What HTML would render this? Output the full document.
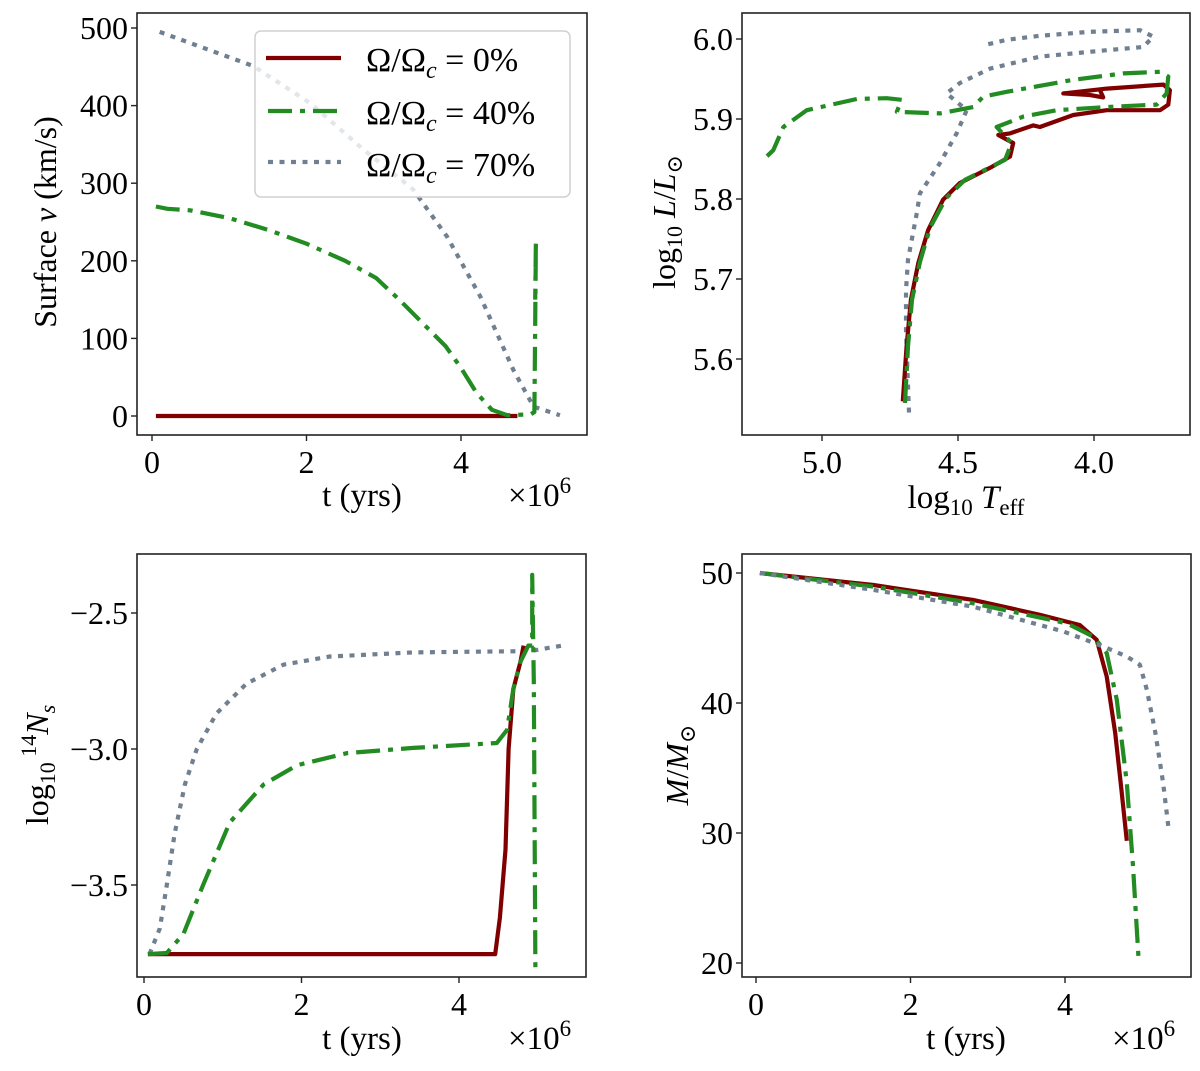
<!DOCTYPE html>
<html><head><meta charset="utf-8"><style>
html,body{margin:0;padding:0;background:#fff;}
svg{display:block;}
text{font-family:"Liberation Serif","DejaVu Serif",serif;fill:#000;}
</style></head><body>
<svg id="fig" width="1200" height="1071" viewBox="0 0 1200 1071" xmlns="http://www.w3.org/2000/svg">
<g id="p1"></g>
<g id="p2"></g>
<g id="p3"></g>
<g id="p4"></g>
</svg>
<script>
// ---- Panel 1: surface velocity (t in 1e6 yrs, v km/s)
const p1RedT = [0.05, 4.73];
const p1RedV = [0, 0];
const p1GreenT = [0.05,0.2,0.5,1.0,1.5,2.0,2.5,2.9,3.2,3.5,3.8,4.0,4.2,4.4,4.6,4.9,4.95,4.96,4.97,4.96];
const p1GreenV = [270,267,265,255,240,222,200,178,150,120,90,62,30,8,1,2,5,120,227,150];
const p1GrayT = [0.1,1.31,2.05,2.74,3.38,3.82,4.25,4.68,4.94,5.28];
const p1GrayV = [495,451,403,343,292,231,154,59,12,1];
const p1XTicks = [0,2,4];
const p1YTicks = [0,100,200,300,400,500];

// ---- Panel 2: HR diagram
const p2RedT = [4.703,4.689,4.673,4.646,4.610,4.555,4.493,4.382,4.309,4.297,4.352,4.309,4.223,4.199,4.076,3.953,3.757,3.727,3.721,3.745,3.953,4.113,4.015,3.966,3.978];
const p2RedL = [5.547,5.616,5.674,5.720,5.761,5.799,5.820,5.839,5.853,5.870,5.880,5.882,5.892,5.890,5.905,5.911,5.911,5.918,5.936,5.943,5.938,5.932,5.930,5.927,5.936];
const p2GreenT = [4.695,4.684,4.669,4.640,4.603,4.544,4.474,4.327,4.303,4.358,4.260,4.137,3.953,3.770,3.733,3.727,3.757,3.892,4.076,4.321,4.407,4.444,4.566,4.725,4.707,4.762,4.872,5.056,5.142,5.179,5.222];
const p2GreenL = [5.545,5.616,5.674,5.721,5.764,5.801,5.824,5.849,5.870,5.890,5.903,5.911,5.915,5.918,5.932,5.953,5.959,5.957,5.949,5.934,5.928,5.915,5.907,5.909,5.924,5.926,5.925,5.911,5.890,5.861,5.847];
const p2GrayT = [4.680,4.691,4.691,4.684,4.665,4.651,4.640,4.566,4.505,4.468,4.542,4.493,4.382,4.199,3.953,3.819,3.782,3.831,4.015,4.199,4.321,4.407];
const p2GrayL = [5.533,5.636,5.686,5.724,5.758,5.783,5.807,5.845,5.882,5.911,5.932,5.945,5.963,5.978,5.986,5.990,6.003,6.011,6.009,6.004,5.999,5.992];
const p2XTicks = [5.0,4.5,4.0];
const p2YTicks = [5.6,5.7,5.8,5.9,6.0];

// ---- Panel 3: log10 14N_s
const p3RedT = [0.05,4.46,4.52,4.59,4.63,4.69,4.78,4.82];
const p3RedN = [-3.754,-3.754,-3.62,-3.37,-3.0,-2.78,-2.68,-2.62];
const p3GreenT = [0.05,0.29,0.50,0.75,1.09,1.52,1.94,2.58,3.42,4.48,4.61,4.69,4.78,4.88,4.93,4.93,4.95,4.97];
const p3GreenN = [-3.754,-3.75,-3.68,-3.50,-3.27,-3.13,-3.06,-3.015,-2.996,-2.978,-2.93,-2.78,-2.68,-2.62,-2.62,-2.36,-2.75,-3.82];
const p3GrayT = [0.07,0.20,0.29,0.39,0.52,0.67,0.92,1.30,1.77,2.36,3.42,4.90,5.31];
const p3GrayN = [-3.754,-3.66,-3.50,-3.31,-3.13,-3.0,-2.87,-2.76,-2.69,-2.66,-2.645,-2.64,-2.62];
const p3XTicks = [0,2,4];
const p3YTicks = [-3.5,-3.0,-2.5];

// ---- Panel 4: mass
const p4RedT = [0.05,1.52,2.81,3.68,4.19,4.41,4.54,4.65,4.73,4.80];
const p4RedM = [50,49.08,47.93,46.78,46.0,44.86,42.04,37.7,33.35,29.4];
const p4GreenT = [0.05,1.52,2.81,4.02,4.37,4.54,4.67,4.80,4.88,4.95];
const p4GreenM = [50,48.95,47.67,46.14,45.1,43.84,40.25,33.86,27.46,20.55];
const p4GrayT = [0.05,1.52,2.81,3.98,4.50,4.80,4.97,5.06,5.17,5.27,5.34];
const p4GrayM = [50,48.7,47.41,45.5,44.34,43.58,42.94,41.0,37.7,33.86,30.4];
const p4XTicks = [0,2,4];
const p4YTicks = [20,30,40,50];

const NS='http://www.w3.org/2000/svg';
function mk(parent, tag, attrs){const e=document.createElementNS(NS,tag);for(const k in attrs)e.setAttribute(k,attrs[k]);parent.appendChild(e);return e;}
const RED='#800000', GREEN='#228B22', GRAY='#708090';
const STY={red:{c:RED,d:''},green:{c:GREEN,d:'24 8 5 8'},gray:{c:GRAY,d:'5 6.5'}};

function lin(d0,d1,r0,r1){return v=>r0+(v-d0)/(d1-d0)*(r1-r0);}

function line(g, xs, ys, sx, sy, kind, name){
  const pts=xs.map((x,i)=>sx(x).toFixed(1)+','+sy(ys[i]).toFixed(1)).join(' ');
  const s=STY[kind];
  const p=mk(g,'polyline',{points:pts,fill:'none',stroke:s.c,'stroke-width':4.2,'stroke-linejoin':'round'});
  if(s.d)p.setAttribute('stroke-dasharray',s.d);
  
  
}

function frame(g, box, sx, sy, xt, yt, xfmt, yfmt){
  const r=mk(g,'rect',{x:box.x0,y:box.y0,width:box.x1-box.x0,height:box.y1-box.y0,fill:'none',stroke:'#222','stroke-width':1.6});
  
  
  xt.forEach(v=>{const x=sx(v);
    mk(g,'line',{x1:x,y1:box.y1,x2:x,y2:box.y1+6,stroke:'#222','stroke-width':1.4});
    const t=mk(g,'text',{x:x,y:box.y1+38,'font-size':32,'text-anchor':'middle'});t.textContent=xfmt(v);
    
    
  });
  yt.forEach(v=>{const y=sy(v);
    mk(g,'line',{x1:box.x0-6,y1:y,x2:box.x0,y2:y,stroke:'#222','stroke-width':1.4});
    const t=mk(g,'text',{x:box.x0-9,y:y+11,'font-size':32,'text-anchor':'end'});t.textContent=yfmt(v);
    
    
  });
}
const minus=v=>(v<0?'\u2212':'')+Math.abs(v).toFixed(1);

// Panel 1
(function(){
  const g=document.getElementById('p1');
  const box={x0:137,x1:587,y0:13,y1:435};
  const sx=lin(0,4,152,461), sy=lin(0,500,416,28);
  frame(g,box,sx,sy,p1XTicks,p1YTicks,v=>String(v),v=>String(v));
  line(g,p1GrayT,p1GrayV,sx,sy,'gray','series-70pct');
  line(g,p1RedT,p1RedV,sx,sy,'red','series-0pct');
  line(g,p1GreenT,p1GreenV,sx,sy,'green','series-40pct');
})();
// Panel 2
(function(){
  const g=document.getElementById('p2');
  const box={x0:742,x1:1190,y0:13,y1:435};
  const sx=lin(5.0,4.0,822,1094), sy=lin(6.0,5.6,39,359);
  frame(g,box,sx,sy,p2XTicks,p2YTicks,v=>v.toFixed(1),v=>v.toFixed(1));
  line(g,p2GrayT,p2GrayL,sx,sy,'gray','track-70pct');
  line(g,p2RedT,p2RedL,sx,sy,'red','track-0pct');
  line(g,p2GreenT,p2GreenL,sx,sy,'green','track-40pct');
})();
// Panel 3
(function(){
  const g=document.getElementById('p3');
  const box={x0:137,x1:586,y0:554,y1:977};
  const sx=lin(0,4,144,459), sy=lin(-3.0,-2.5,749,613);
  frame(g,box,sx,sy,p3XTicks,p3YTicks,v=>String(v),minus);
  line(g,p3GrayT,p3GrayN,sx,sy,'gray','nitrogen-70pct');
  line(g,p3RedT,p3RedN,sx,sy,'red','nitrogen-0pct');
  line(g,p3GreenT,p3GreenN,sx,sy,'green','nitrogen-40pct');
})();
// Panel 4
(function(){
  const g=document.getElementById('p4');
  const box={x0:742,x1:1191,y0:554,y1:977};
  const sx=lin(0,4,756,1065), sy=lin(50,20,573,963);
  frame(g,box,sx,sy,p4XTicks,p4YTicks,v=>String(v),v=>String(v));
  line(g,p4RedT,p4RedM,sx,sy,'red','mass-0pct');
  line(g,p4GreenT,p4GreenM,sx,sy,'green','mass-40pct');
  line(g,p4GrayT,p4GrayM,sx,sy,'gray','mass-70pct');
})();
</script>
<svg width="1200" height="1071" viewBox="0 0 1200 1071" style="position:absolute;left:0;top:0" xmlns="http://www.w3.org/2000/svg">
<g>
<rect x="255" y="31" width="315" height="166" rx="6" fill="#fff" fill-opacity="0.8" stroke="#d0d0d0" stroke-width="1.5"/>
<line x1="266" y1="58" x2="341" y2="58" stroke="#800000" stroke-width="4.2"/>
<line x1="268" y1="111" x2="341" y2="111" stroke="#228B22" stroke-width="4.2" stroke-dasharray="24 8 5 8"/>
<line x1="268" y1="162" x2="341" y2="162" stroke="#708090" stroke-width="4.2" stroke-dasharray="5 6.5"/>
<text x="366" y="71" font-size="34">Ω/Ω<tspan font-style="italic" font-size="24" dy="7">c</tspan><tspan dy="-7"> = 0%</tspan></text>
<text x="366" y="124" font-size="34">Ω/Ω<tspan font-style="italic" font-size="24" dy="7">c</tspan><tspan dy="-7"> = 40%</tspan></text>
<text x="366" y="176" font-size="34">Ω/Ω<tspan font-style="italic" font-size="24" dy="7">c</tspan><tspan dy="-7"> = 70%</tspan></text>
</g>
<text transform="translate(56,222) rotate(-90)" text-anchor="middle" font-size="32">Surface <tspan font-style="italic">v</tspan> (km/s)</text>
<text x="362" y="506" text-anchor="middle" font-size="33">t (yrs)</text>
<text x="508" y="506" font-size="33">×10<tspan font-size="23" dy="-13">6</tspan></text>
<text transform="translate(675,222) rotate(-90)" text-anchor="middle" font-size="32">log<tspan font-size="22" dy="7">10</tspan><tspan dy="-7" font-style="italic"> L</tspan>/<tspan font-style="italic">L</tspan><tspan font-size="22" dy="7">⊙</tspan></text>
<text x="966" y="508" text-anchor="middle" font-size="33">log<tspan font-size="23" dy="7">10</tspan><tspan dy="-7" font-style="italic"> T</tspan><tspan font-size="23" dy="7">eff</tspan></text>
<text transform="translate(48,765) rotate(-90)" text-anchor="middle" font-size="32">log<tspan font-size="22" dy="7">10</tspan><tspan font-size="22" dy="-19"> 14</tspan><tspan dy="12" font-style="italic">N</tspan><tspan font-size="22" dy="7" font-style="italic">s</tspan></text>
<text x="362" y="1049" text-anchor="middle" font-size="33">t (yrs)</text>
<text x="508" y="1049" font-size="33">×10<tspan font-size="23" dy="-13">6</tspan></text>
<text transform="translate(688,765) rotate(-90)" text-anchor="middle" font-size="32"><tspan font-style="italic">M</tspan>/<tspan font-style="italic">M</tspan><tspan font-size="22" dy="7">⊙</tspan></text>
<text x="966" y="1049" text-anchor="middle" font-size="33">t (yrs)</text>
<text x="1112" y="1049" font-size="33">×10<tspan font-size="23" dy="-13">6</tspan></text>
</svg>
</body></html>
